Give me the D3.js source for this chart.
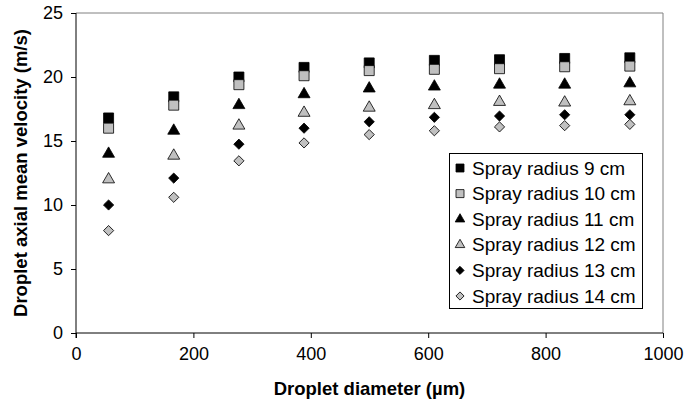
<!DOCTYPE html>
<html>
<head>
<meta charset="utf-8">
<script src="https://cdn.jsdelivr.net/npm/d3@7"></script>
<style>
  body { margin: 0; background: #fff; }
  text { font-family: Arial, "Liberation Sans", sans-serif; fill: #000; }
</style>
</head>
<body>
<svg width="684" height="407"></svg>
<script>
// Données
const diameters = [55.5, 166.5, 277.5, 388.5, 499.5, 610.5, 721.5, 832.5, 943.5];
const radius9  = [16.8, 18.45, 20.0, 20.75, 21.1, 21.3, 21.35, 21.45, 21.5];
const radius10 = [16.0, 17.8, 19.4, 20.1, 20.5, 20.6, 20.65, 20.8, 20.85];
const radius11 = [14.0, 15.8, 17.8, 18.65, 19.1, 19.25, 19.4, 19.4, 19.5];
const radius12 = [12.0, 13.85, 16.2, 17.2, 17.6, 17.8, 18.05, 18.0, 18.1];
const radius13 = [10.0, 12.1, 14.75, 16.0, 16.5, 16.85, 16.95, 17.05, 17.05];
const radius14 = [8.0, 10.6, 13.45, 14.85, 15.5, 15.8, 16.1, 16.2, 16.3];
const seriesNames = ["Spray radius 9 cm", "Spray radius 10 cm", "Spray radius 11 cm",
                     "Spray radius 12 cm", "Spray radius 13 cm", "Spray radius 14 cm"];
const xTicks = [0, 200, 400, 600, 800, 1000];
const yTicks = [0, 5, 10, 15, 20, 25];

const gray = "#c0c0c0";
const series = [
    { name: seriesNames[0], values: radius9,  shape: "square",   fill: "#000" },
    { name: seriesNames[1], values: radius10, shape: "square",   fill: gray },
    { name: seriesNames[2], values: radius11, shape: "triangle", fill: "#000" },
    { name: seriesNames[3], values: radius12, shape: "triangle", fill: gray },
    { name: seriesNames[4], values: radius13, shape: "diamond",  fill: "#000" },
    { name: seriesNames[5], values: radius14, shape: "diamond",  fill: gray }
];

const svg = d3.select("svg"),
      margin = { top: 13, right: 21, bottom: 74, left: 76 },
      width = 684 - margin.left - margin.right,
      height = 407 - margin.top - margin.bottom;

const chart = svg.append("g")
    .attr("transform", `translate(${margin.left},${margin.top})`);

const x = d3.scaleLinear().domain([0, 1000]).range([0, width]);
const y = d3.scaleLinear().domain([0, 25]).range([height, 0]);

// marqueurs
function markerPath(shape, k) {
    if (shape === "square") return d3.symbol(d3.symbolSquare, 100 * k * k)();
    if (shape === "triangle") return d3.symbol(d3.symbolTriangle, 62 * k * k)();
    return d3.symbol(d3.symbolSquare, 52 * k * k)();
}
function markerRot(shape) { return shape === "diamond" ? " rotate(45)" : ""; }

// cadre (haut et droite en gris)
chart.append("line")
    .attr("x1", 0).attr("x2", width).attr("y1", 0).attr("y2", 0)
    .attr("stroke", "#808080").attr("stroke-width", 1);
chart.append("line")
    .attr("x1", width).attr("x2", width).attr("y1", 0).attr("y2", height)
    .attr("stroke", "#808080").attr("stroke-width", 1);

// axes
const xAxis = chart.append("g")
    .attr("transform", `translate(0,${height})`)
    .call(d3.axisBottom(x).tickValues(xTicks).tickFormat(d3.format("d")).tickSize(5).tickPadding(9));
const yAxis = chart.append("g")
    .call(d3.axisLeft(y).tickValues(yTicks).tickSize(5).tickPadding(8));

[xAxis, yAxis].forEach(a => {
    a.select(".domain").attr("stroke", "#000");
    a.selectAll(".tick line").attr("stroke", "#000");
    a.selectAll("text").style("font-size", "18px").attr("fill", "#000");
});
xAxis.select(".domain").attr("d", `M0,0H${width}`);
yAxis.select(".domain").attr("d", `M0,0V${height + 5}`);

// points
series.forEach(s => {
    chart.append("g")
        .selectAll("path")
        .data(s.values.map((v, i) => ({ d: diameters[i], v: v })))
        .join("path")
        .attr("d", markerPath(s.shape, 1))
        .attr("transform", d => `translate(${x(d.d)},${y(d.v)})` + markerRot(s.shape))
        .attr("fill", s.fill)
        .attr("stroke", "#000")
        .attr("stroke-width", 0.8);
});

// titres des axes
svg.append("text")
    .attr("x", margin.left + width / 2)
    .attr("y", 395)
    .attr("text-anchor", "middle")
    .style("font-size", "18.5px")
    .style("font-weight", "bold")
    .text("Droplet diameter (µm)");

svg.append("text")
    .attr("transform", `translate(27,${margin.top + height / 2}) rotate(-90)`)
    .attr("text-anchor", "middle")
    .style("font-size", "18.5px")
    .style("font-weight", "bold")
    .text("Droplet axial mean velocity (m/s)");

// légende
const legend = svg.append("g").attr("transform", "translate(449,153)");
legend.append("rect")
    .attr("x", 0.5).attr("y", 0.5)
    .attr("width", 193).attr("height", 155)
    .attr("fill", "#fff").attr("stroke", "#000");

series.forEach((s, i) => {
    const row = legend.append("g")
        .attr("transform", `translate(11,${15 + i * 25.6})`);
    row.append("path")
        .attr("d", markerPath(s.shape, 0.8))
        .attr("transform", "translate(0,0)" + markerRot(s.shape))
        .attr("fill", s.fill)
        .attr("stroke", "#000")
        .attr("stroke-width", 0.8);
    row.append("text")
        .attr("x", 12)
        .attr("dy", "0.35em")
        .style("font-size", "19px")
        .text(s.name);
});
</script>
</body>
</html>
